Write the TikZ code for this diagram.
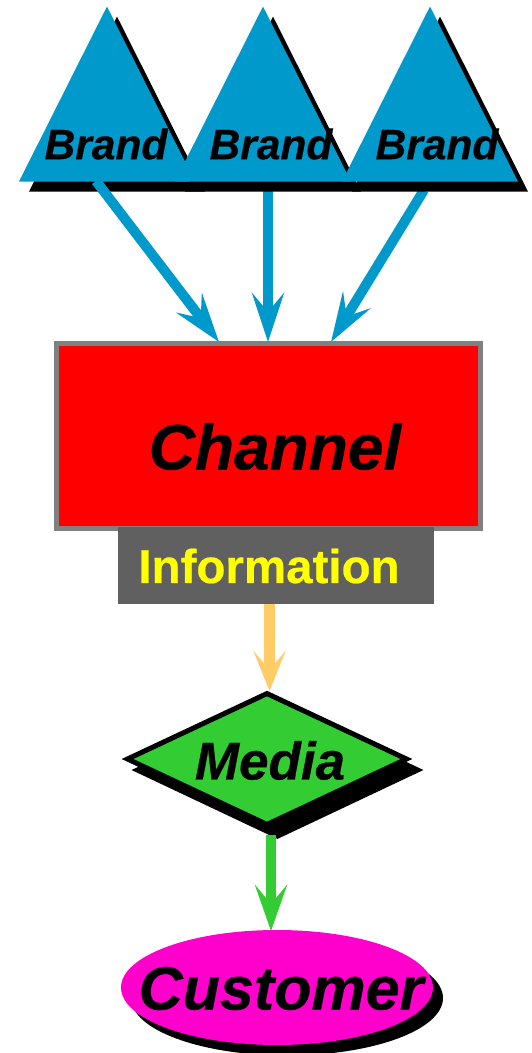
\documentclass[tikz,border=0pt]{standalone}
\usepackage{fontspec}
\setmainfont{Liberation Sans}[BoldFeatures={FakeBold=0.5},BoldItalicFeatures={FakeBold=0.5}]
\usetikzlibrary{arrows.meta,shapes.geometric}
\definecolor{brandblue}{HTML}{0099CC}
\definecolor{infogray}{HTML}{606060}
\definecolor{boxgray}{HTML}{808080}
\definecolor{orangearrow}{HTML}{FFCC66}
\definecolor{mediagreen}{HTML}{33CC33}
\definecolor{custmag}{HTML}{FF00CC}
\tikzset{
  x=1pt,y=-1pt,
  conn/.style={line width=10pt,-{Stealth[length=#1,width=32pt,inset=19pt]}},
  conn/.default=49pt,
  label/.style={font=\bfseries\itshape,text=black,inner sep=0pt},
  tri/.style={isosceles triangle,isosceles triangle stretches=true,shape border rotate=90,minimum height=175pt,minimum width=176pt,inner sep=0pt,fill=#1,anchor=apex},
  ell/.style={ellipse,minimum width=312pt,minimum height=115pt,inner sep=0pt},
}
\begin{document}
\begin{tikzpicture}
\useasboundingbox (0,0) rectangle (532,1053);
\coordinate (c1) at (219,342);
\coordinate (c2) at (268,342);
\coordinate (c3) at (331,342);
\coordinate (s2) at (268,190);
\coordinate (s3) at (424,190);
\coordinate (s1) at (96,181);
\draw[conn,brandblue] (s2) -- (c2);
\draw[conn,brandblue] (s3) -- (c3);
\node[tri=black] (t1s) at (117,16) {};
\node[tri=brandblue] (t1) at (107,6) {};
\draw[conn,brandblue] (s1) -- (c1);
\node[tri=black] (t2s) at (273,16) {};
\node[tri=brandblue] (t2) at (263,6) {};
\node[tri=black] (t3s) at (440,16) {};
\node[tri=brandblue] (t3) at (430,6) {};
\node[label,font=\fontsize{42.5}{42.5}\bfseries\itshape] (b1) at (106,144) {Brand};
\node[label,font=\fontsize{42.5}{42.5}\bfseries\itshape] (b2) at (271,144) {Brand};
\node[label,font=\fontsize{42.5}{42.5}\bfseries\itshape] (b3) at (437,144) {Brand};
\node[draw=boxgray,line width=5pt,fill=red,minimum width=424pt,minimum height=185pt,inner sep=0pt] (chan) at (268.5,436) {};
\node[label,font=\fontsize{64}{64}\bfseries\itshape] (chant) at (275,446.5) {Channel};
\node[fill=infogray,minimum width=316pt,minimum height=77pt,inner sep=0pt] (info) at (276,565.5) {};
\node[font=\fontsize{47.5}{47.5}\bfseries,text={rgb,1:red,1;green,1;blue,0},inner sep=0pt] (infot) at (269,566) {Information};
\node[diamond,minimum width=292pt,minimum height=138pt,inner sep=0pt,fill=black] (ms) at (277.5,770) {};
\node[diamond,minimum width=281pt,minimum height=133pt,inner sep=0pt,draw=black,line width=5pt,fill=mediagreen] (m) at (267,759) {};
\coordinate (oa) at (269.5,604);
\coordinate (ob) at (269.5,691);
\coordinate (ga) at (271,835);
\coordinate (gb) at (271,931);
\draw[conn=40pt,line width=11pt,orangearrow] (oa) -- (ob);
\draw[conn=46pt,line width=10.5pt,mediagreen] (ga) -- (gb);
\node[label,font=\fontsize{53}{53}\bfseries\itshape] (mt) at (270,760.5) {Media};
\node[ell,fill=black] (cs) at (287,998) {};
\node[ell,fill=custmag] (cu) at (277,987.5) {};
\node[label,font=\fontsize{61}{61}\bfseries\itshape] (cut) at (281,988.5) {Customer};
\end{tikzpicture}
\end{document}
